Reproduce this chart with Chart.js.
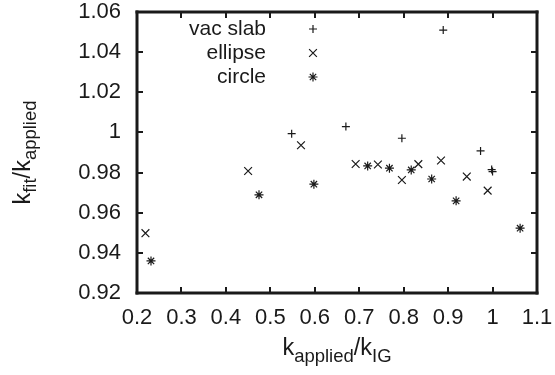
<!DOCTYPE html>
<html><head><meta charset="utf-8">
<script src="https://cdn.jsdelivr.net/npm/chart.js@4.4.0/dist/chart.umd.min.js"></script>
<style>html,body{margin:0;padding:0;background:#fff}</style>
</head><body>
<canvas id="c" width="555" height="375" style="width:555px;height:375px;display:block"></canvas>
<script>
// ---- data ----
const seriesNames = ['vac slab', 'ellipse', 'circle'];
const vacSlabX = [0.548, 0.670, 0.796, 0.889, 0.973, 0.998, 1.000];
const vacSlabY = [0.9994, 1.0029, 0.9971, 1.0510, 0.9908, 0.9815, 0.9805];
const ellipseX = [0.219, 0.450, 0.569, 0.692, 0.742, 0.796, 0.833, 0.884, 0.942, 0.989];
const ellipseY = [0.9498, 0.9808, 0.9936, 0.9843, 0.9840, 0.9763, 0.9842, 0.9860, 0.9780, 0.9710];
const circleX = [0.2315, 0.4745, 0.598, 0.719, 0.768, 0.817, 0.863, 0.918, 1.062];
const circleY = [0.9360, 0.9689, 0.9742, 0.9833, 0.9822, 0.9813, 0.9768, 0.9659, 0.9523];
const xTicks = [0.2, 0.3, 0.4, 0.5, 0.6, 0.7, 0.8, 0.9, 1.0, 1.1];
const xTickLabels = ['0.2', '0.3', '0.4', '0.5', '0.6', '0.7', '0.8', '0.9', '1', '1.1'];
const yTicks = [0.92, 0.94, 0.96, 0.98, 1.00, 1.02, 1.04, 1.06];
const yTickLabels = ['0.92', '0.94', '0.96', '0.98', '1', '1.02', '1.04', '1.06'];

const INK = '#1a1a1a';
const FONT = "'Liberation Sans', Arial, Helvetica, sans-serif";
const toPts = (xs, ys) => xs.map((x, i) => ({x: x, y: ys[i]}));

const styles = [
  {pointStyle: 'cross', radius: 4},
  {pointStyle: 'crossRot', radius: 5.5},
  {pointStyle: 'star', radius: 4.5}
];

const datasets = [
  toPts(vacSlabX, vacSlabY),
  toPts(ellipseX, ellipseY),
  toPts(circleX, circleY)
].map((d, i) => ({
  label: seriesNames[i],
  data: d,
  showLine: false,
  pointStyle: styles[i].pointStyle,
  pointRadius: styles[i].radius,
  pointHoverRadius: styles[i].radius,
  borderColor: INK,
  backgroundColor: INK,
  pointBorderWidth: 1.2
}));

function drawMark(ctx, style, r, x, y) {
  ctx.beginPath();
  if (style === 'cross' || style === 'star') {
    ctx.moveTo(x - r, y); ctx.lineTo(x + r, y);
    ctx.moveTo(x, y - r); ctx.lineTo(x, y + r);
  }
  if (style === 'crossRot' || style === 'star') {
    const d = r * Math.SQRT1_2;
    ctx.moveTo(x - d, y - d); ctx.lineTo(x + d, y + d);
    ctx.moveTo(x - d, y + d); ctx.lineTo(x + d, y - d);
  }
  ctx.stroke();
}

const framePlugin = {
  id: 'gpframe',
  afterDraw(chart) {
    const ctx = chart.ctx, a = chart.chartArea;
    const xs = chart.scales.x, ys = chart.scales.y;
    ctx.save();
    ctx.fillStyle = INK;
    const tl = 6, tw = 2, bw = 3;
    // frame
    ctx.fillRect(a.left - bw / 2, a.top - bw / 2, a.right - a.left + bw, bw);
    ctx.fillRect(a.left - bw / 2, a.bottom - bw / 2, a.right - a.left + bw, bw);
    ctx.fillRect(a.left - bw / 2, a.top - bw / 2, bw, a.bottom - a.top + bw);
    ctx.fillRect(a.right - bw / 2, a.top - bw / 2, bw, a.bottom - a.top + bw);
    // inward ticks, mirrored
    xs.ticks.forEach(t => {
      const p = Math.round(xs.getPixelForValue(t.value));
      ctx.fillRect(p - tw / 2, a.bottom - tl, tw, tl);
      ctx.fillRect(p - tw / 2, a.top, tw, tl);
    });
    ys.ticks.forEach(t => {
      const p = Math.round(ys.getPixelForValue(t.value));
      ctx.fillRect(a.left, p - tw / 2, tl, tw);
      ctx.fillRect(a.right - tl, p - tw / 2, tl, tw);
    });

    // key (legend), gnuplot style: text right-aligned, symbol to its right
    ctx.font = '21px ' + FONT;
    ctx.textAlign = 'right';
    ctx.textBaseline = 'middle';
    chart.data.datasets.forEach((ds, i) => {
      const y = a.top + 17 + 24 * i;
      ctx.fillStyle = INK;
      ctx.fillText(ds.label, a.left + 129, y);
      ctx.strokeStyle = INK;
      ctx.lineWidth = 1.2;
      drawMark(ctx, ds.pointStyle, ds.pointRadius, a.left + 176, y);
    });

    // axis titles with subscripts
    const big = '23.5px ' + FONT, small = '18.5px ' + FONT;
    function titleParts(parts) {
      let w = 0;
      parts.forEach(p => { ctx.font = p.sub ? small : big; p.w = ctx.measureText(p.t).width; w += p.w; });
      return w;
    }
    ctx.fillStyle = INK;
    ctx.textAlign = 'left';
    ctx.textBaseline = 'alphabetic';
    const xParts = [{t: 'k'}, {t: 'applied', sub: true}, {t: '/k'}, {t: 'IG', sub: true}];
    let w = titleParts(xParts);
    let cx = (a.left + a.right) / 2 - w / 2;
    xParts.forEach(p => {
      ctx.font = p.sub ? small : big;
      ctx.fillText(p.t, cx, p.sub ? 362 : 355);
      cx += p.w;
    });
    const yParts = [{t: 'k'}, {t: 'fit', sub: true}, {t: '/k'}, {t: 'applied', sub: true}];
    w = titleParts(yParts);
    ctx.translate(30, (a.top + a.bottom) / 2);
    ctx.rotate(-Math.PI / 2);
    cx = -w / 2;
    yParts.forEach(p => {
      ctx.font = p.sub ? small : big;
      ctx.fillText(p.t, cx, p.sub ? 6 : 0);
      cx += p.w;
    });
    ctx.restore();
  }
};

new Chart(document.getElementById('c'), {
  type: 'scatter',
  data: {datasets: datasets},
  options: {
    responsive: false,
    animation: false,
    devicePixelRatio: 1,
    layout: {padding: {left: 0, top: 12, right: 18, bottom: 0}},
    plugins: {legend: {display: false}, tooltip: {enabled: false}},
    scales: {
      x: {
        type: 'linear', min: 0.2, max: 1.1,
        afterBuildTicks: s => { s.ticks = xTicks.map(v => ({value: v})); },
        afterFit: s => { s.height = 82; s.paddingLeft = 0; s.paddingRight = 0; },
        grid: {display: false, drawTicks: false},
        border: {display: false},
        ticks: {
          color: INK, font: {family: FONT, size: 22}, padding: 12,
          maxRotation: 0, autoSkip: false,
          callback: (v, i) => xTickLabels[i]
        }
      },
      y: {
        type: 'linear', min: 0.92, max: 1.06,
        afterBuildTicks: s => { s.ticks = yTicks.map(v => ({value: v})); },
        afterFit: s => { s.width = 137; s.paddingTop = 0; s.paddingBottom = 0; },
        grid: {display: false, drawTicks: false},
        border: {display: false},
        ticks: {
          color: INK, font: {family: FONT, size: 22}, padding: 16,
          autoSkip: false,
          callback: (v, i) => yTickLabels[i]
        }
      }
    }
  },
  plugins: [framePlugin]
});
</script>
</body></html>
